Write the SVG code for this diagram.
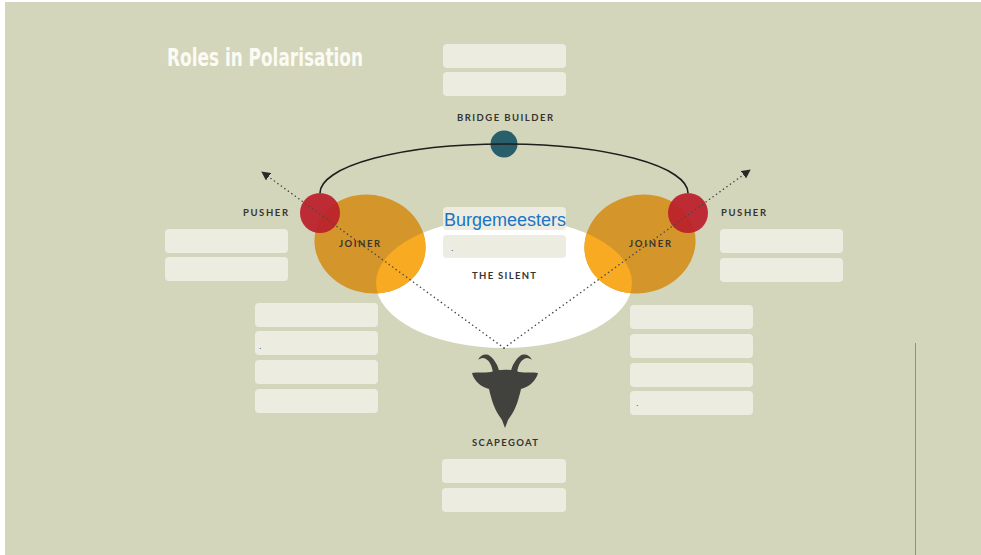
<svg xmlns="http://www.w3.org/2000/svg" width="981" height="555" viewBox="0 0 981 555">
<style>
.box{fill:#ecece1;}
.lbl{font-family:Lato,"Open Sans","DejaVu Sans",sans-serif;font-weight:700;font-size:9.5px;fill:#35352f;}
.dot{font-family:"Liberation Sans",Arial,sans-serif;font-size:9px;fill:#2b4f9a;}
.dots{fill:none;stroke:#4a4a48;stroke-width:1.5;stroke-dasharray:0.1 4.2;stroke-linecap:round;}
.joiner{fill:#d4952a;}
.joiner-hi{fill:#f8aa22;}
.pusher{fill:#bb1f2a;fill-opacity:0.93;}
</style>
<defs>
<marker id="arrow" viewBox="0 0 10 10" refX="9" refY="5" markerWidth="9" markerHeight="9" markerUnits="userSpaceOnUse" orient="auto">
<path d="M0,0 L10,5 L0,10 Z" fill="#2a2a28"/>
</marker>
<clipPath id="silentClip"><ellipse cx="504" cy="283" rx="128" ry="65"/></clipPath>
</defs>
<rect x="0" y="0" width="981" height="555" fill="#ffffff"/>
<rect x="5" y="2" width="976" height="553" fill="#d4d6bc"/>
<line x1="915.5" y1="343" x2="915.5" y2="555" stroke="#8f9180" stroke-width="1"/>
<text x="167" y="66" font-family="'DejaVu Sans Condensed','DejaVu Sans',sans-serif" font-weight="700" font-size="24" fill="#fbfbf3" textLength="196" lengthAdjust="spacingAndGlyphs">Roles in Polarisation</text>

<g id="silent">
<ellipse cx="504" cy="283" rx="128" ry="65" fill="#ffffff"/>
<rect class="box" x="443" y="207" width="123" height="23" rx="4"/>
<rect class="box" x="443" y="235" width="123" height="23" rx="4"/>
<text x="505" y="226" text-anchor="middle" font-family="'Liberation Sans',Arial,sans-serif" font-size="18" fill="#1b74c6">Burgemeesters</text>
<text class="dot" x="451" y="251">.</text>
<text class="lbl" x="472" y="279" textLength="64" lengthAdjust="spacing">THE SILENT</text>
</g>

<g id="joiner-left">
<ellipse class="joiner" cx="370" cy="244" rx="56" ry="49" transform="rotate(15 370 244)"/>
<g clip-path="url(#silentClip)"><ellipse class="joiner-hi" cx="370" cy="244" rx="56" ry="49" transform="rotate(15 370 244)"/></g>
<text class="lbl" x="339" y="247" textLength="41" lengthAdjust="spacing">JOINER</text>
<rect class="box" x="255" y="303" width="123" height="24" rx="4"/>
<rect class="box" x="255" y="331" width="123" height="24" rx="4"/>
<rect class="box" x="255" y="360" width="123" height="24" rx="4"/>
<rect class="box" x="255" y="389" width="123" height="24" rx="4"/>
<text class="dot" x="259" y="349">.</text>
</g>

<g id="joiner-right">
<ellipse class="joiner" cx="640" cy="244" rx="56" ry="49" transform="rotate(-15 640 244)"/>
<g clip-path="url(#silentClip)"><ellipse class="joiner-hi" cx="640" cy="244" rx="56" ry="49" transform="rotate(-15 640 244)"/></g>
<text class="lbl" x="629" y="247" textLength="42" lengthAdjust="spacing">JOINER</text>
<rect class="box" x="630" y="305" width="123" height="24" rx="4"/>
<rect class="box" x="630" y="334" width="123" height="24" rx="4"/>
<rect class="box" x="630" y="363" width="123" height="24" rx="4"/>
<rect class="box" x="630" y="391" width="123" height="24" rx="4"/>
<text class="dot" x="636" y="406">.</text>
</g>

<g id="pusher-left">
<circle class="pusher" cx="320" cy="213" r="20"/>
<text class="lbl" x="243" y="215.5" textLength="45" lengthAdjust="spacing">PUSHER</text>
<rect class="box" x="165" y="229" width="123" height="24" rx="4"/>
<rect class="box" x="165" y="257" width="123" height="24" rx="4"/>
</g>

<g id="pusher-right">
<circle class="pusher" cx="688" cy="213" r="20"/>
<text class="lbl" x="721" y="215.5" textLength="45" lengthAdjust="spacing">PUSHER</text>
<rect class="box" x="720" y="229" width="123" height="24" rx="4"/>
<rect class="box" x="720" y="258" width="123" height="24" rx="4"/>
</g>

<g id="bridge-builder">
<rect class="box" x="443" y="44" width="123" height="24" rx="4"/>
<rect class="box" x="443" y="72" width="123" height="24" rx="4"/>
<text class="lbl" x="457" y="121" textLength="96" lengthAdjust="spacing">BRIDGE BUILDER</text>
<circle cx="504" cy="144" r="13.5" fill="#285f6a"/>
</g>

<g id="scapegoat">
<path fill="#41423d" d="M491 372 C498 369,512 369,519 372 C526 373,533 372,538 373 C536 381,529 387,521 389 C519 398,516 408,512 414 L508 420 L505 428 L502 420 L498 414 C494 408,491 398,489 389 C481 387,474 381,472 373 C477 372,484 373,491 372 Z"/>
<path fill="#41423d" d="M493 373 C492 365,489 359,483 358 C481 358,479 359,478 360 C480 355,486 353,490 356 C495 360,498 366,499 371 Z"/>
<path fill="#41423d" d="M517 373 C518 365,521 359,527 358 C529 358,531 359,532 360 C530 355,524 353,520 356 C515 360,512 366,511 371 Z"/>
<text class="lbl" x="472" y="446" textLength="66" lengthAdjust="spacing">SCAPEGOAT</text>
<rect class="box" x="442" y="459" width="124" height="24" rx="4"/>
<rect class="box" x="442" y="488" width="124" height="24" rx="4"/>
</g>

<g id="connectors">
<path d="M320 193 A184 49 0 0 1 688 193" fill="none" stroke="#1e1e1c" stroke-width="1.6"/>
<line class="dots" x1="504" y1="348" x2="262" y2="172" marker-end="url(#arrow)"/>
<line class="dots" x1="504" y1="348" x2="750" y2="170" marker-end="url(#arrow)"/>
</g>
</svg>
